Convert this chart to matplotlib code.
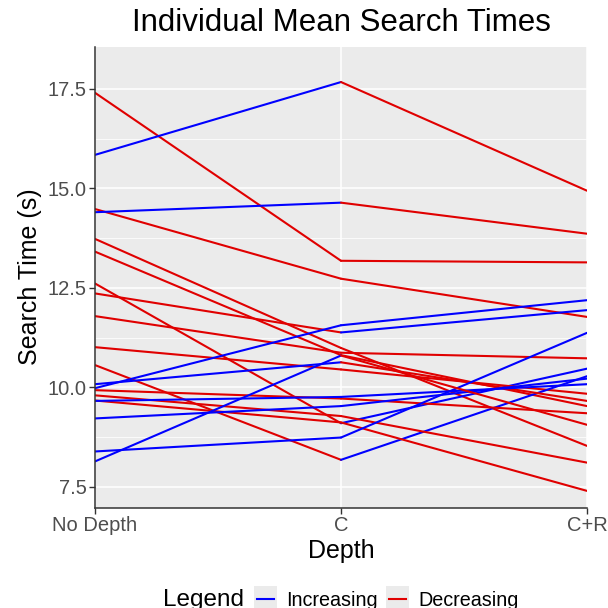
import matplotlib
matplotlib.use("Agg")
import matplotlib.pyplot as plt
from matplotlib.lines import Line2D
from matplotlib.patches import Rectangle
import numpy as np

plt.rcParams['font.family'] = ['Liberation Sans', 'DejaVu Sans']

depth_labels = ["No Depth", "C", "C+R"]
# one value per participant, same order in every list
no_depth = [17.40, 15.84, 14.48, 14.40, 13.73, 13.41, 12.61, 12.36, 11.79, 11.01,
            10.56, 10.08, 9.98, 9.93, 9.80, 9.67, 9.66, 9.22, 8.39, 8.14]
c_only = [13.18, 17.67, 12.73, 14.64, 10.99, 10.81, 9.10, 11.38, 10.87, 10.45,
          8.18, 10.63, 11.56, 9.72, 9.28, 9.12, 9.76, 9.53, 8.74, 10.80]
c_r = [13.14, 14.94, 11.77, 13.86, 8.53, 9.53, 10.47, 11.94, 10.73, 9.84,
       10.28, 9.66, 12.19, 9.35, 8.11, 7.40, 10.08, 10.22, 11.37, 9.06]
y_ticks = [7.5, 10.0, 12.5, 15.0, 17.5]

inc_color = "#0000FF"
dec_color = "#E00000"
W = 608.0

fig = plt.figure(figsize=(6.08, 6.08), dpi=100)
ax = fig.add_axes([95 / W, 1 - 508 / W, (587 - 95) / W, (508 - 47) / W])
ax.set_facecolor("#EBEBEB")

x = np.arange(len(depth_labels))
for row in zip(no_depth, c_only, c_r):
    for i in range(2):
        col = inc_color if row[i + 1] > row[i] else dec_color
        ax.plot(x[i:i + 2], row[i:i + 2], color=col, lw=1.5, solid_capstyle='round')

ax.set_xlim(0, 2)
ax.set_ylim(6.97, 18.55)
ax.set_xticks(x)
ax.set_xticklabels(depth_labels)
ax.set_yticks(y_ticks)
ax.set_yticklabels(["%.1f" % t for t in y_ticks])
ax.set_yticks([8.75, 11.25, 13.75, 16.25], minor=True)
ax.tick_params(which='minor', length=0)
ax.tick_params(which='major', length=4, width=1, color='#333333',
               labelcolor='#4D4D4D', labelsize=14.5, pad=2)
ax.set_axisbelow(True)
ax.grid(which='major', color='white', lw=1.1)
ax.grid(which='minor', axis='y', color='white', lw=0.55)
for s in ['top', 'right']:
    ax.spines[s].set_visible(False)
for s in ['left', 'bottom']:
    ax.spines[s].set_color('#333333')
    ax.spines[s].set_linewidth(1.1)

fig.text(341 / W, 1 - 23 / W, "Individual Mean Search Times", ha='center', va='center',
         fontsize=22.5, color='black')
fig.text(30 / W, 1 - 277 / W, "Search Time (s)", ha='center', va='center',
         rotation=90, fontsize=18)
fig.text(341 / W, 1 - 558 / W, "Depth", ha='center', va='baseline', fontsize=18)

# legend along the bottom, title on the left like ggplot
base = 1 - 606 / W
ly = 1 - 599 / W
fig.text(163 / W, base, "Legend", ha='left', va='baseline', fontsize=17.5)
for x0, col, lab in [(254, inc_color, "Increasing"), (386, dec_color, "Decreasing")]:
    fig.add_artist(Rectangle((x0 / W, 1 - 612 / W), 23 / W, 26 / W,
                             transform=fig.transFigure, facecolor='#EBEBEB', edgecolor='none'))
    fig.add_artist(Line2D([(x0 + 3) / W, (x0 + 20) / W], [ly, ly],
                          transform=fig.transFigure, color=col, lw=1.5))
    fig.text((x0 + 32) / W, base, lab, ha='left', va='baseline', fontsize=14.2)

fig.savefig("out.png", dpi=100)
